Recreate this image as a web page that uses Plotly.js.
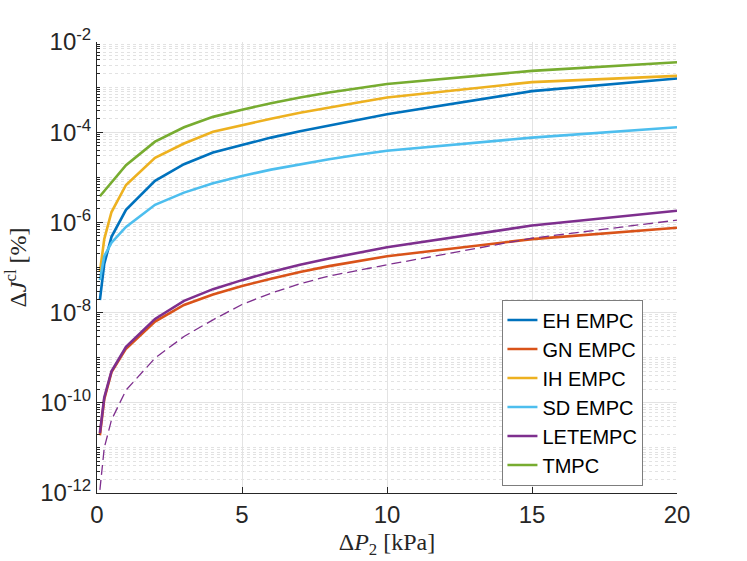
<!DOCTYPE html>
<html>
<head>
<meta charset="utf-8">
<script src="https://cdn.plot.ly/plotly-3.0.1.min.js"></script>
<style>
  html, body { margin: 0; padding: 0; background: #fff; }
</style>
</head>
<body>
<div id="chart" style="width:747px;height:561px;"></div>
<script>
// pressure step [kPa]
const dP = [0.1, 0.25, 0.5, 1, 2, 3, 4, 5, 6, 7, 8, 9, 10, 15, 20];
const dPTmpc = [0.1, 1, 2, 3, 4, 5, 6, 7, 8, 9, 10, 15, 20];

// log10 of the cost increase [%]
const ehEmpc = [-7.72, -6.92, -6.32, -5.72, -5.08, -4.71, -4.45, -4.28, -4.12, -3.98, -3.85, -3.72, -3.60, -3.09, -2.81];
const gnEmpc = [-10.72, -9.92, -9.32, -8.80, -8.20, -7.83, -7.60, -7.41, -7.25, -7.10, -6.97, -6.86, -6.75, -6.37, -6.12];
const ihEmpc = [-7.10, -6.37, -5.77, -5.17, -4.57, -4.25, -3.99, -3.84, -3.70, -3.57, -3.45, -3.34, -3.23, -2.89, -2.75];
const sdEmpc = [-7.28, -6.75, -6.45, -6.10, -5.61, -5.34, -5.13, -4.97, -4.83, -4.71, -4.60, -4.50, -4.41, -4.12, -3.89];
const letEmpc = [-10.67, -9.88, -9.30, -8.76, -8.14, -7.74, -7.48, -7.28, -7.10, -6.94, -6.80, -6.67, -6.55, -6.07, -5.74];
const letEmpcDash = [-11.93, -11.00, -10.38, -9.72, -9.01, -8.53, -8.16, -7.82, -7.57, -7.36, -7.19, -7.06, -6.94, -6.35, -5.95];
const tmpc = [-5.42, -4.73, -4.21, -3.89, -3.66, -3.50, -3.36, -3.23, -3.12, -3.02, -2.93, -2.64, -2.45];

const yTickVals = [1e-12, 1e-10, 1e-8, 1e-6, 1e-4, 1e-2];
const yTickText = ['10<sup>-12</sup>', '10<sup>-10</sup>', '10<sup>-8</sup>', '10<sup>-6</sup>', '10<sup>-4</sup>', '10<sup>-2</sup>'];
const xTickVals = [0, 5, 10, 15, 20];

const pow10 = (a) => a.map((v) => Math.pow(10, v));

// minor ticks: 2..9 in every decade, plus the odd decades
const minorVals = [];
for (let e = -12; e < -2; e++) {
  for (let m = 1; m <= 9; m++) {
    if (m === 1 && e % 2 === 0) continue;
    minorVals.push(m * Math.pow(10, e));
  }
}

const colors = ['#0072BD', '#D95319', '#EDB120', '#4DBEEE', '#7E2F8E', '#77AC30'];
const lw = 2.6;

const traces = [
  {x: dP, y: pow10(ehEmpc), name: 'EH EMPC', line: {color: colors[0], width: lw}},
  {x: dP, y: pow10(gnEmpc), name: 'GN EMPC', line: {color: colors[1], width: lw}},
  {x: dP, y: pow10(ihEmpc), name: 'IH EMPC', line: {color: colors[2], width: lw}},
  {x: dP, y: pow10(sdEmpc), name: 'SD EMPC', line: {color: colors[3], width: lw}},
  {x: dP, y: pow10(letEmpc), name: 'LETEMPC', line: {color: colors[4], width: lw}},
  {x: dPTmpc, y: pow10(tmpc), name: 'TMPC', line: {color: colors[5], width: lw}},
  {x: dP, y: pow10(letEmpcDash), name: 'LETEMPC bound', showlegend: false,
    line: {color: colors[4], width: 1.3, dash: '10px,5px'}},
].map((t) => Object.assign({type: 'scatter', mode: 'lines'}, t));

const axisFont = {family: 'Arial', size: 24, color: '#262626'};
const titleFont = {family: 'Liberation Serif', size: 24, color: '#262626'};

Plotly.newPlot('chart', traces, {
  width: 747,
  height: 561,
  margin: {l: 97, r: 70, t: 42, b: 68},
  paper_bgcolor: '#ffffff',
  plot_bgcolor: '#ffffff',
  showlegend: true,
  xaxis: {
    range: [0, 20],
    tickvals: xTickVals,
    ticks: 'inside',
    ticklen: 6,
    tickcolor: '#262626',
    tickfont: axisFont,
    showline: true,
    linecolor: '#262626',
    linewidth: 1,
    showgrid: true,
    gridcolor: '#e3e3e3',
    gridwidth: 1,
    zeroline: false,
    title: {text: 'Δ<i>P</i><sub>2</sub> [kPa]', font: titleFont, standoff: 6},
  },
  yaxis: {
    type: 'log',
    range: [-12, -2],
    tickvals: yTickVals,
    ticktext: yTickText,
    ticks: 'inside',
    ticklen: 6,
    tickcolor: '#262626',
    tickfont: axisFont,
    showline: true,
    linecolor: '#262626',
    linewidth: 1,
    showgrid: true,
    gridcolor: '#e3e3e3',
    gridwidth: 1,
    zeroline: false,
    minor: {
      tickvals: minorVals,
      ticks: 'inside',
      ticklen: 3,
      tickcolor: '#262626',
      showgrid: true,
      gridcolor: '#e2e2e2',
      gridwidth: 1,
      griddash: 'dot',
    },
    title: {text: 'Δ<i>J</i><sup>cl</sup> [%]', font: titleFont, standoff: 6},
  },
  legend: {
    x: 0.698,
    y: 0.428,
    xanchor: 'left',
    yanchor: 'top',
    bgcolor: '#ffffff',
    bordercolor: '#262626',
    borderwidth: 0.6,
    font: {family: 'Arial', size: 20, color: '#000000'},
  },
}, {displayModeBar: false, staticPlot: true});
</script>
</body>
</html>
